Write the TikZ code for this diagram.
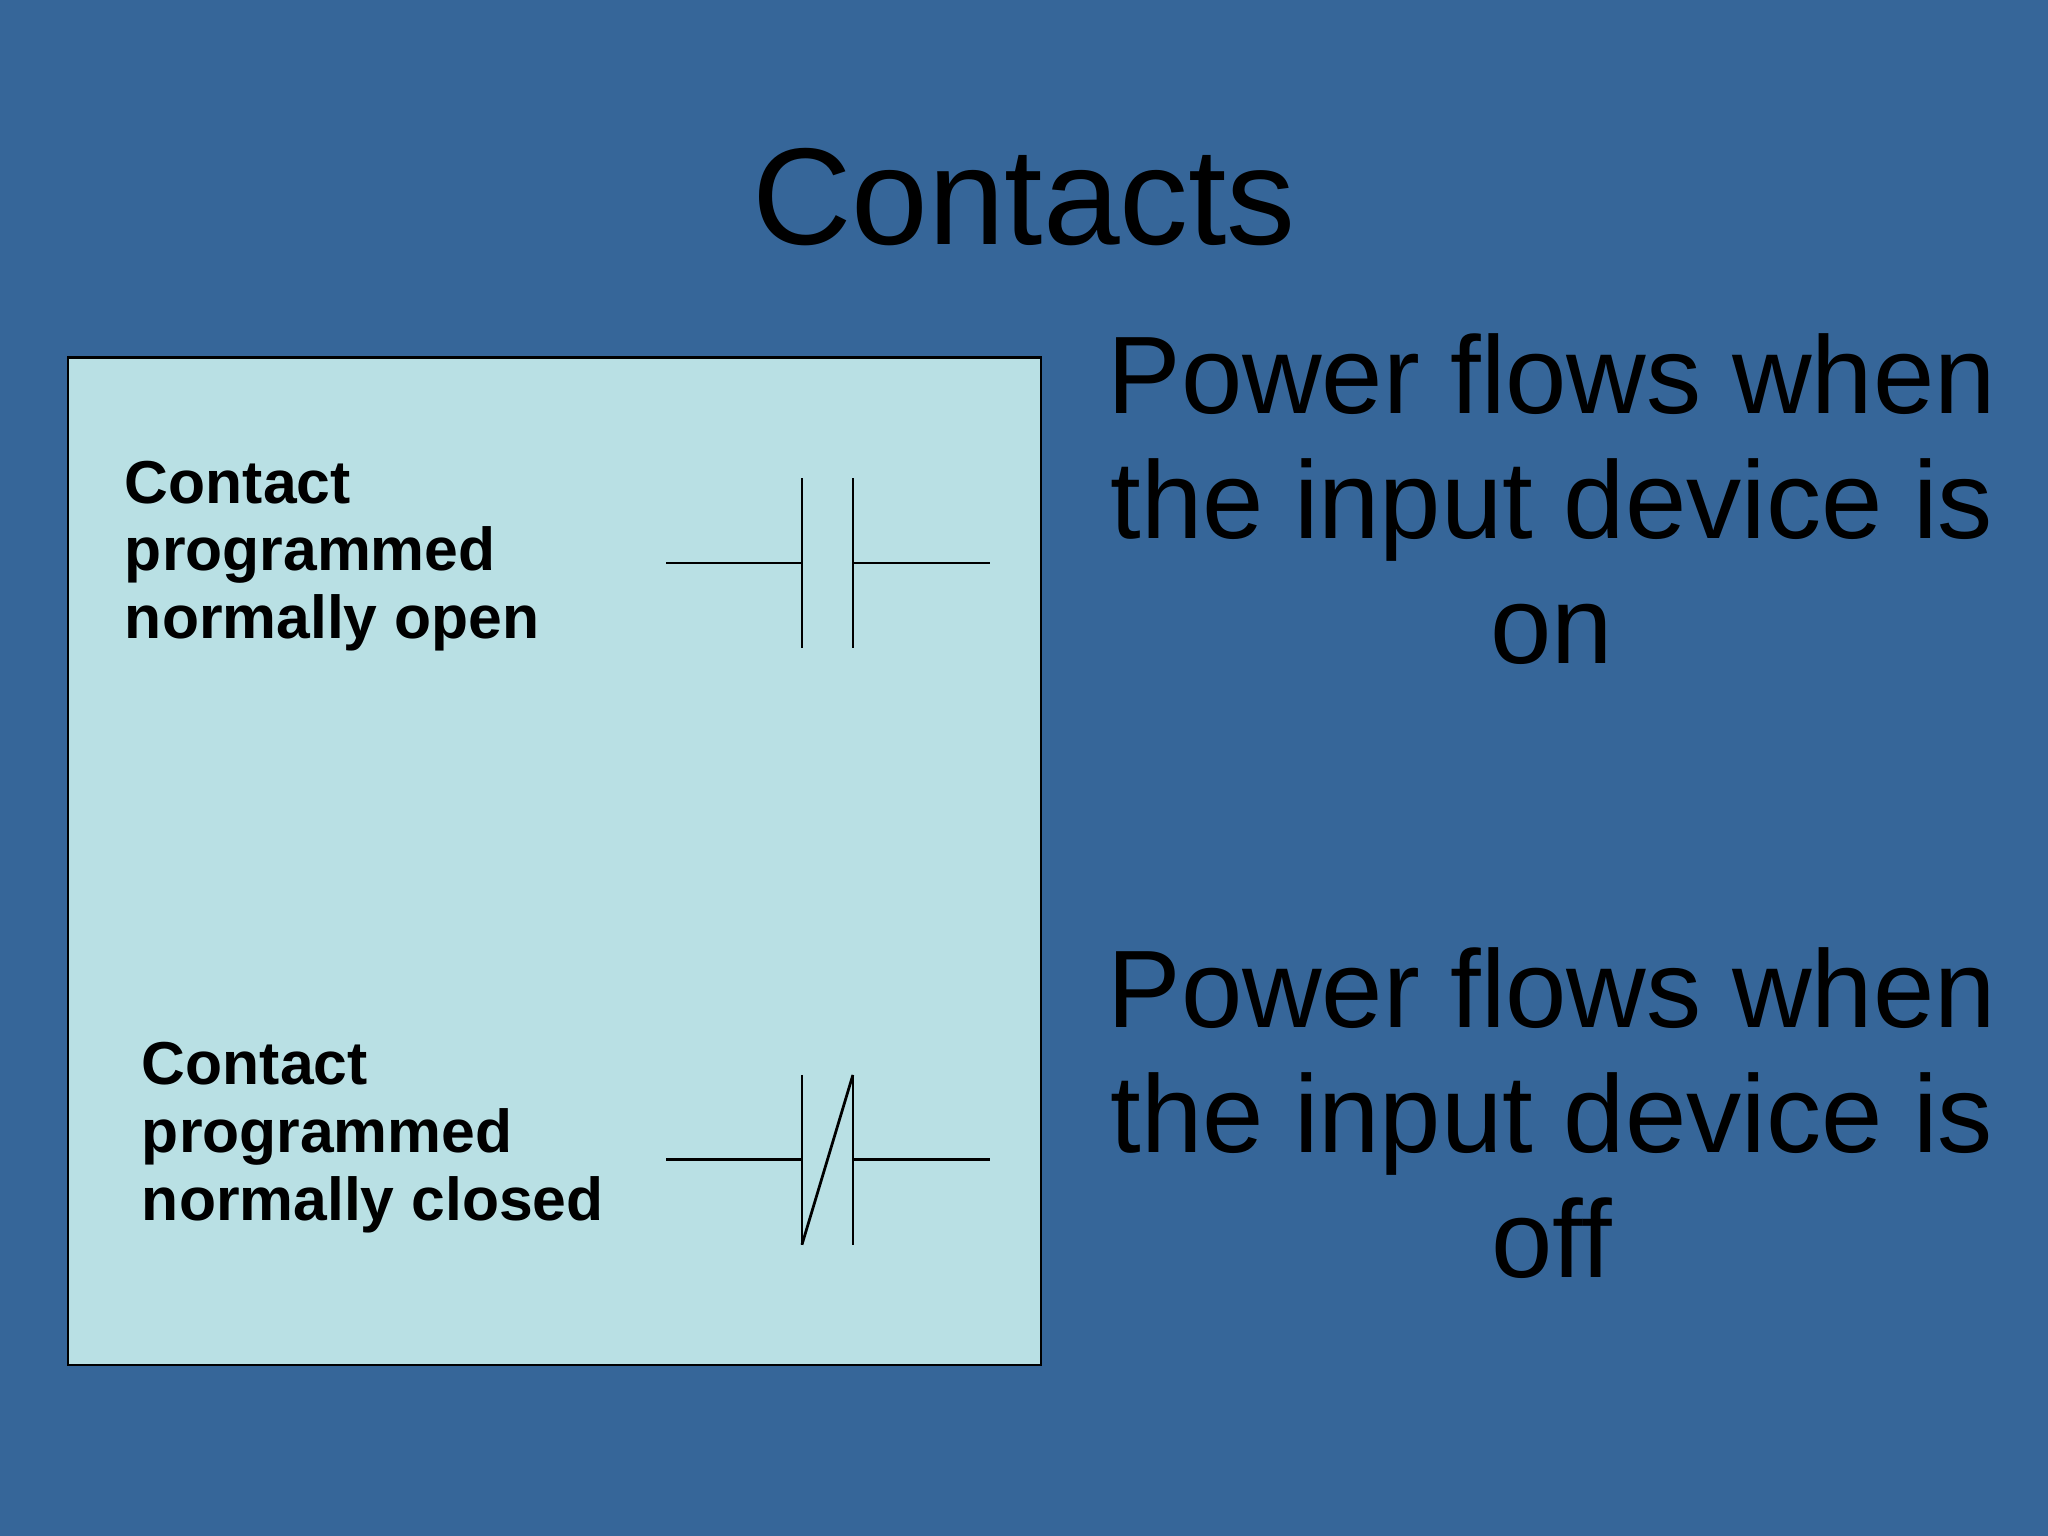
\documentclass[tikz,border=0pt]{standalone}
\usepackage{fontspec}
\setmainfont{Liberation Sans}
\definecolor{slidebg}{HTML}{366699}
\definecolor{boxfill}{HTML}{B9E0E4}
\tikzset{
  big/.style = {font=\fontsize{24}{27.2}\selectfont, align=center, inner sep=0},
  lbl/.style = {font=\bfseries\fontsize{13.2}{14.8}\selectfont, align=left, inner sep=0, anchor=north west},
  wire/.style = {line width=0.6pt}
}
\begin{document}
\begin{tikzpicture}[x=0.01cm, y=-0.01cm]

    % Background
    \fill[slidebg] (0,0) rectangle (1568,1176);
    \useasboundingbox (0,0) rectangle (1568,1176);

    % Title
    \node[font=\fontsize{30}{34}\selectfont, inner sep=0, anchor=base] (title) at (784,187) {Contacts};

    % Panel
    \draw[fill=boxfill, line width=0.6pt] (52,274) rectangle (797,1045);

    % Labels
    \node[lbl] (nolabel) at (95,352) {Contact\\programmed\\normally open};
    \node[lbl] (nclabel) at (108,797) {Contact\\programmed\\normally closed};

    % Normally open contact
    \draw[wire] (510,431) -- (614,431);
    \draw[wire] (653,431) -- (758,431);
    \draw[wire] (614,366) -- (614,496);
    \draw[wire] (653,366) -- (653,496);

    % Normally closed contact
    \draw[wire] (510,888) -- (614,888);
    \draw[wire] (653,888) -- (758,888);
    \draw[wire] (614,823) -- (614,953);
    \draw[wire] (653,823) -- (653,953);
    \draw[wire] (614,953) -- (653,823);

    % Explanations
    \node[big, anchor=north] (ontext) at (1188,255) {Power flows when\\the input device is\\on};
    \node[big, anchor=north] (offtext) at (1188,725) {Power flows when\\the input device is\\off};

\end{tikzpicture}
\end{document}
